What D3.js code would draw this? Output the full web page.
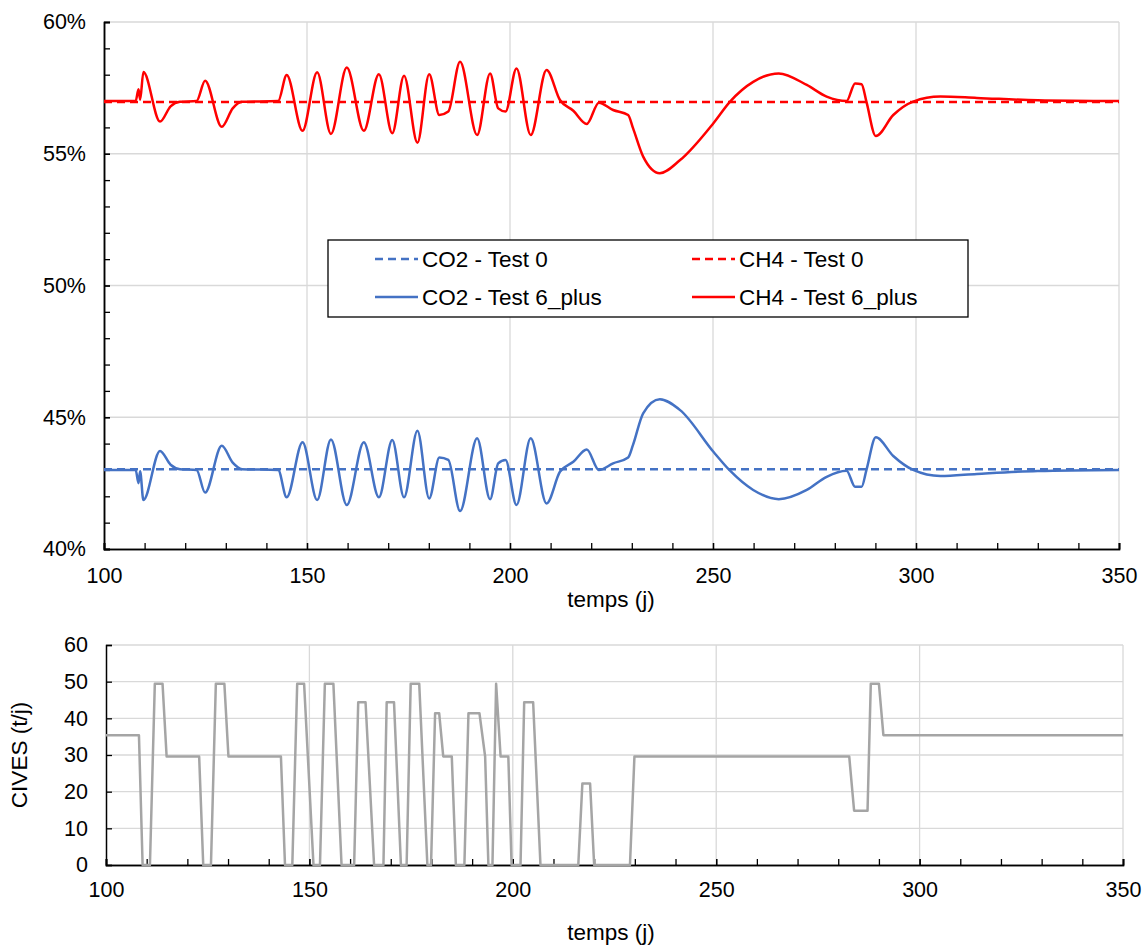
<!DOCTYPE html>
<html>
<head>
<meta charset="utf-8">
<script src="https://cdn.jsdelivr.net/npm/d3@7"></script>
<style>
  html, body { margin: 0; padding: 0; background: #fff; }
  svg { display: block; }
  text { font-family: "Liberation Sans", Arial, sans-serif; fill: #000; }
</style>
</head>
<body>
<svg id="chart" width="1145" height="945"></svg>
<script>
// ---- Biogas composition (%), reference run "Test 0" ----
const test0Days = [100, 350];
const co2Test0 = [43.03, 43.03];
const ch4Test0 = [56.96, 56.96];

// ---- Biogas composition (%), run "Test 6_plus" ----
const test6Days = [
  100, 107.8, 108.5, 108.9, 109.7, 113.8, 116.4, 118.7, 122.8, 124.9,
  129.0, 131.7, 134.0, 142.9, 145.0, 148.9, 152.5, 155.9, 159.8, 164.0,
  167.7, 171.0, 173.9, 177.2, 180.1, 182.6, 184.8, 187.7, 191.9, 195.1,
  197.1, 198.9, 201.6, 205.1, 209.0, 212.3, 215.6, 218.9, 221.9, 225.4,
  229.1, 230.3, 232.8, 236.9, 241.9, 250.1, 254.2, 259.9, 266.2, 273.1,
  278.0, 282.9, 285.0, 286.6, 287.8, 290.1, 294.4, 299.3, 306.0, 315,
  330, 350
];
const ch4Test6 = [
  57.0, 57.0, 57.45, 57.05, 58.1, 56.22, 56.8, 56.97, 57.0, 57.77,
  56.02, 56.72, 56.97, 57.0, 57.99, 55.87, 58.09, 55.75, 58.27, 55.87,
  58.02, 55.78, 57.96, 55.42, 58.02, 56.47, 56.6, 58.49, 55.71, 58.05,
  56.72, 56.6, 58.24, 55.71, 58.18, 57.04, 56.63, 56.13, 56.94, 56.66,
  56.47, 55.97, 54.89, 54.26, 54.76, 56.16, 56.98, 57.73, 58.05, 57.61,
  57.17, 57.0, 57.67, 57.64, 56.97, 55.67, 56.47, 56.98, 57.17, 57.12,
  57.03, 57.0
];
const co2Test6 = [
  43.0, 43.0, 42.5, 42.95, 41.86, 43.72, 43.2, 43.03, 43.0, 42.14,
  43.92, 43.28, 43.03, 43.0, 41.96, 44.05, 41.86, 44.16, 41.67, 44.05,
  41.96, 44.14, 41.96, 44.49, 41.92, 43.47, 43.38, 41.44, 44.2, 41.89,
  43.25, 43.38, 41.67, 44.2, 41.73, 42.93, 43.31, 43.78, 43.0, 43.25,
  43.47, 43.95, 45.15, 45.68, 45.27, 43.69, 42.97, 42.24, 41.89, 42.24,
  42.74, 42.97, 42.36, 42.36, 43.0, 44.24, 43.53, 43.0, 42.77, 42.85,
  42.96, 43.0
];

// ---- CIVES feed (t/j) ----
const civesDays = [
  100, 108.1, 109.0, 110.8, 112.0, 113.9, 114.9, 122.9, 123.9, 125.8,
  127.0, 129.1, 130.1, 143.0, 144.0, 145.8, 147.0, 148.7, 151.0, 152.6,
  153.8, 155.9, 157.9, 161.0, 162.0, 163.8, 165.9, 168.2, 169.0, 170.8,
  172.5, 173.9, 174.9, 177.0, 179.0, 179.9, 180.9, 181.9, 182.9, 185.0,
  186.0, 188.1, 189.1, 191.8, 193.2, 194.0, 195.0, 195.9, 197.0, 198.9,
  199.7, 201.9, 202.8, 205.0, 206.8, 216.1, 217.1, 219.0, 220.0, 228.8,
  229.9, 282.7, 283.9, 287.2, 288.0, 290.0, 291.1, 350
];
const civesVals = [
  35.4, 35.4, 0, 0, 49.4, 49.4, 29.6, 29.6, 0, 0,
  49.4, 49.4, 29.6, 29.6, 0, 0, 49.4, 49.4, 0, 0,
  49.4, 49.4, 0, 0, 44.4, 44.4, 0, 0, 44.4, 44.4,
  0, 0, 49.4, 49.4, 0, 0, 41.4, 41.4, 29.6, 29.6,
  0, 0, 41.4, 41.4, 29.6, 0, 0, 49.4, 29.6, 29.6,
  0, 0, 44.4, 44.4, 0, 0, 22.2, 22.2, 0, 0,
  29.6, 29.6, 14.8, 14.8, 49.4, 49.4, 35.4, 35.4
];

// ---- Axis ticks ----
const dayTicks = [100, 150, 200, 250, 300, 350];
const dayMinorTicks = d3.range(100, 351, 10);
const pctTicks = [40, 45, 50, 55, 60];
const pctMinorTicks = d3.range(40, 61, 1);
const civesTicks = [0, 10, 20, 30, 40, 50, 60];

// ---- Legend entries ----
const legendItems = [
  { label: "CO2 - Test 0", color: "#4472C4", dash: "8,5" },
  { label: "CH4 - Test 0", color: "#FF0000", dash: "8,5" },
  { label: "CO2 - Test 6_plus", color: "#4472C4", dash: null },
  { label: "CH4 - Test 6_plus", color: "#FF0000", dash: null }
];

const svg = d3.select("#chart");
svg.append("rect").attr("width", 1145).attr("height", 945).attr("fill", "#fff");

const gridColor = "#d9d9d9";
const tickFont = 21.5;
const titleFont = 22.5;

function drawGrid(g, x, y, xVals, yVals) {
  const [x0, x1] = x.range();
  const [y0, y1] = y.range();
  g.selectAll(".hg").data(yVals).join("line")
    .attr("class", "hg")
    .attr("x1", x0).attr("x2", x1)
    .attr("y1", d => y(d)).attr("y2", d => y(d))
    .attr("stroke", gridColor).attr("stroke-width", 1.3);
  g.selectAll(".vg").data(xVals).join("line")
    .attr("class", "vg")
    .attr("x1", d => x(d)).attr("x2", d => x(d))
    .attr("y1", y0).attr("y2", y1)
    .attr("stroke", gridColor).attr("stroke-width", 1.3);
}

function styleAxis(g) {
  g.select(".domain").attr("stroke", "#000").attr("stroke-width", 1.5);
  g.selectAll(".tick line").attr("stroke", "#000").attr("stroke-width", 1.3);
  g.selectAll("text").attr("font-size", tickFont)
    .attr("font-family", "'Liberation Sans', Arial, sans-serif").attr("fill", "#000");
}

// ================= Top panel: CO2 / CH4 =================
const xTop = d3.scaleLinear().domain([100, 350]).range([104, 1119]);
const yTop = d3.scaleLinear().domain([40, 60]).range([549, 22]);

const gasPanel = svg.append("g");
drawGrid(gasPanel.append("g"), xTop, yTop, dayTicks.slice(1), pctTicks.slice(1));

gasPanel.append("g").attr("transform", `translate(${xTop(100)},0)`)
  .call(d3.axisLeft(yTop).tickValues(pctMinorTicks).tickSize(-6).tickFormat(""))
  .call(styleAxis);
gasPanel.append("g").attr("transform", `translate(${xTop(100)},0)`)
  .call(d3.axisLeft(yTop).tickValues(pctTicks).tickSize(-6).tickPadding(18).tickFormat(d => d + "%"))
  .call(styleAxis);
gasPanel.append("g").attr("transform", `translate(0,${yTop(40)})`)
  .call(d3.axisBottom(xTop).tickValues(dayMinorTicks).tickSize(-6).tickFormat(""))
  .call(styleAxis);
gasPanel.append("g").attr("transform", `translate(0,${yTop(40)})`)
  .call(d3.axisBottom(xTop).tickValues(dayTicks).tickSize(-6).tickPadding(19).tickFormat(d3.format("d")))
  .call(styleAxis);

gasPanel.append("text")
  .attr("x", 611).attr("y", 607)
  .attr("text-anchor", "middle").attr("font-size", titleFont)
  .text("temps (j)");

const lineTop = (days, vals) => d3.line()
  .x((d, i) => xTop(days[i]))
  .y(d => yTop(d))
  .curve(d3.curveMonotoneX)(vals);

gasPanel.append("path").attr("d", lineTop(test0Days, co2Test0))
  .attr("fill", "none").attr("stroke", "#4472C4").attr("stroke-width", 2.5)
  .attr("stroke-dasharray", "8,5");
gasPanel.append("path").attr("d", lineTop(test0Days, ch4Test0))
  .attr("fill", "none").attr("stroke", "#FF0000").attr("stroke-width", 2.5)
  .attr("stroke-dasharray", "8,5");
gasPanel.append("path").attr("d", lineTop(test6Days, co2Test6))
  .attr("fill", "none").attr("stroke", "#4472C4").attr("stroke-width", 2.5)
  .attr("stroke-linejoin", "round");
gasPanel.append("path").attr("d", lineTop(test6Days, ch4Test6))
  .attr("fill", "none").attr("stroke", "#FF0000").attr("stroke-width", 2.5)
  .attr("stroke-linejoin", "round");

// legend
const legend = gasPanel.append("g");
legend.append("rect")
  .attr("x", 328).attr("y", 240).attr("width", 640).attr("height", 77)
  .attr("fill", "#fff").attr("stroke", "#000").attr("stroke-width", 1.3);
const legendCols = [375, 692];
const legendRows = [259, 297];
legendItems.forEach((item, i) => {
  const cx = legendCols[i % 2];
  const cy = legendRows[Math.floor(i / 2)];
  legend.append("line")
    .attr("x1", cx).attr("x2", cx + 43).attr("y1", cy).attr("y2", cy)
    .attr("stroke", item.color).attr("stroke-width", 2.5)
    .attr("stroke-dasharray", item.dash);
  legend.append("text")
    .attr("x", cx + 47).attr("y", cy + 8)
    .attr("font-size", titleFont)
    .text(item.label);
});

// ================= Bottom panel: CIVES feed =================
const xBot = d3.scaleLinear().domain([100, 350]).range([106, 1123]);
const yBot = d3.scaleLinear().domain([0, 60]).range([865, 645]);

const feedPanel = svg.append("g");
drawGrid(feedPanel.append("g"), xBot, yBot, dayTicks.slice(1), civesTicks.slice(1));

feedPanel.append("g").attr("transform", `translate(${xBot(100)},0)`)
  .call(d3.axisLeft(yBot).tickValues(civesTicks).tickSize(-6).tickPadding(18).tickFormat(d3.format("d")))
  .call(styleAxis);
feedPanel.append("g").attr("transform", `translate(0,${yBot(0)})`)
  .call(d3.axisBottom(xBot).tickValues(dayMinorTicks).tickSize(-6).tickFormat(""))
  .call(styleAxis);
feedPanel.append("g").attr("transform", `translate(0,${yBot(0)})`)
  .call(d3.axisBottom(xBot).tickValues(dayTicks).tickSize(-6).tickPadding(17).tickFormat(d3.format("d")))
  .call(styleAxis);

feedPanel.append("text")
  .attr("x", 611).attr("y", 940)
  .attr("text-anchor", "middle").attr("font-size", titleFont)
  .text("temps (j)");
feedPanel.append("text")
  .attr("transform", "translate(27,755) rotate(-90)")
  .attr("text-anchor", "middle").attr("font-size", titleFont)
  .text("CIVES (t/j)");

const lineBot = d3.line()
  .x((d, i) => xBot(civesDays[i]))
  .y(d => yBot(d));
feedPanel.append("path").attr("d", lineBot(civesVals))
  .attr("fill", "none").attr("stroke", "#A5A5A5").attr("stroke-width", 2.5)
  .attr("stroke-linejoin", "round");
</script>
</body>
</html>
